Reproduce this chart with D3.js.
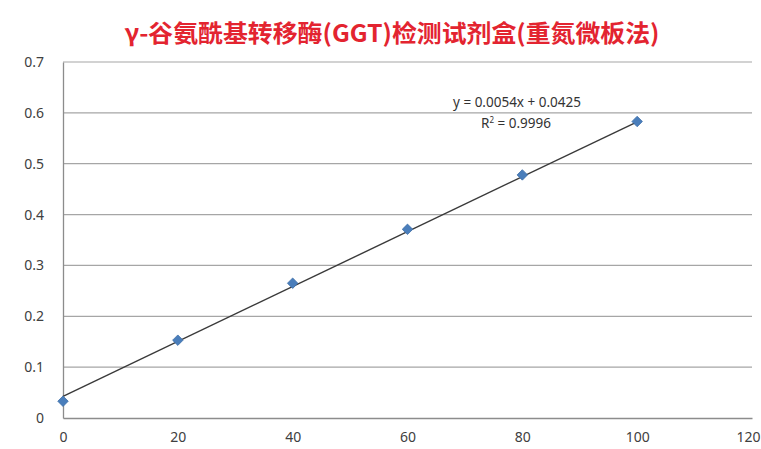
<!DOCTYPE html>
<html>
<head>
<meta charset="utf-8">
<script src="https://cdn.jsdelivr.net/npm/d3@7"></script>
<style>
  body { margin: 0; background: #fff; }
  text { font-family: "Noto Sans", "Open Sans", sans-serif; }
</style>
</head>
<body>
<div id="chart"></div>
<script>
const title = "γ-谷氨酰基转移酶(GGT)检测试剂盒(重氮微板法)"
const xValues = [0, 20, 40, 60, 80, 100]
const yValues = [0.033, 0.153, 0.265, 0.371, 0.478, 0.583]
const xTicks = [0, 20, 40, 60, 80, 100, 120]
const yTicks = [0, 0.1, 0.2, 0.3, 0.4, 0.5, 0.6, 0.7]
const slope = 0.0054
const intercept = 0.0425
const equationText = "y = 0.0054x + 0.0425"
const r2Value = "0.9996"

const W = 761, H = 449
const MARGIN = {TOP: 62, BOTTOM: 31, LEFT: 63, RIGHT: 9}
const WIDTH = W - MARGIN.LEFT - MARGIN.RIGHT
const HEIGHT = H - MARGIN.TOP - MARGIN.BOTTOM

const root = d3.select("#chart").append("svg")
  .attr("width", W)
  .attr("height", H)

root.append("text")
  .attr("x", 392)
  .attr("y", 42)
  .attr("text-anchor", "middle")
  .attr("fill", "#e32430")
  .attr("font-size", 24)
  .attr("font-weight", "bold")
  .style("font-family", '"Noto Sans CJK SC", sans-serif')
  .attr("textLength", 535)
  .attr("lengthAdjust", "spacingAndGlyphs")
  .text(title)

const svg = root.append("g")
  .attr("transform", `translate(${MARGIN.LEFT}, ${MARGIN.TOP})`)

const x = d3.scaleLinear().domain([0, 120]).range([0, WIDTH])
const y = d3.scaleLinear().domain([0, 0.7]).range([HEIGHT, 0])

// gridlines
svg.append("g")
  .selectAll("line")
  .data(yTicks.filter(d => d > 0))
  .enter().append("line")
    .attr("x1", 0)
    .attr("x2", WIDTH)
    .attr("y1", d => y(d))
    .attr("y2", d => y(d))
    .attr("stroke", "#a6a6a6")
    .attr("stroke-width", 1.2)

// axes
const xAxisGroup = svg.append("g")
  .attr("transform", `translate(0, ${HEIGHT})`)
  .call(d3.axisBottom(x).tickValues(xTicks).tickSize(0).tickPadding(16).tickFormat(d3.format("d")))
const yAxisGroup = svg.append("g")
  .call(d3.axisLeft(y).tickValues(yTicks).tickSize(0).tickPadding(19).tickFormat(d => d === 0 ? "0" : d3.format(".1f")(d)))

;[xAxisGroup, yAxisGroup].forEach(g => {
  g.select(".domain").attr("stroke", "#8c8c8c").attr("stroke-width", 1.3)
  g.selectAll("text")
    .attr("fill", "#404040")
    .attr("font-size", 14)
    .style("font-family", '"Noto Sans", sans-serif')
})
xAxisGroup.selectAll("text").attr("dy", "0.6em")
// last label would run past the right edge, pull it in
xAxisGroup.selectAll(".tick").filter(d => d === 120).select("text")
  .attr("text-anchor", "end")
  .attr("x", 8)

// trendline
const trend = [0, 100].map(v => [v, slope * v + intercept])
svg.append("path")
  .datum(trend)
  .attr("fill", "none")
  .attr("stroke", "#3a3a3a")
  .attr("stroke-width", 1.4)
  .attr("d", d3.line().x(d => x(d[0])).y(d => y(d[1])))

// markers
svg.selectAll(".pt")
  .data(xValues.map((v, i) => [v, yValues[i]]))
  .enter().append("path")
    .attr("class", "pt")
    .attr("transform", d => `translate(${x(d[0])}, ${y(d[1])})`)
    .attr("d", d3.symbol().type(d3.symbolDiamond2).size(70))
    .attr("fill", "#4a7ebb")
    .attr("stroke", "#3d6fa8")
    .attr("stroke-width", 0.8)

// equation label
svg.append("text")
  .attr("x", 517 - MARGIN.LEFT)
  .attr("y", 107 - MARGIN.TOP)
  .attr("text-anchor", "middle")
  .attr("fill", "#333")
  .attr("font-size", 13.5)
  .text(equationText)

const r2 = svg.append("text")
  .attr("x", 516 - MARGIN.LEFT)
  .attr("y", 128 - MARGIN.TOP)
  .attr("text-anchor", "middle")
  .attr("fill", "#333")
  .attr("font-size", 13.5)
r2.append("tspan").text("R")
r2.append("tspan").attr("dy", -5).attr("font-size", 8).text("2")
r2.append("tspan").attr("dy", 5).text(" = " + r2Value)
</script>
</body>
</html>
